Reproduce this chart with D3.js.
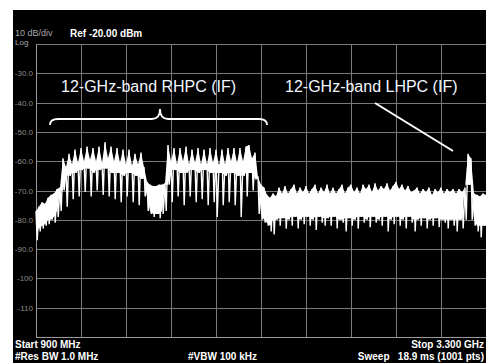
<!DOCTYPE html>
<html>
<head>
<meta charset="utf-8">
<script src="https://cdn.jsdelivr.net/npm/d3@7"></script>
<style>
  body { margin: 0; background: #fff; }
  svg { display: block; font-family: "Liberation Sans", Arial, sans-serif; }
</style>
</head>
<body>
<div id="chart"></div>
<script>
// sweep settings (MHz) and amplitude range (dBm)
const startFreq = 900;
const stopFreq = 3300;
const refLevel = -20;
const bottomLevel = -120;
const yTickValues = [-30, -40, -50, -60, -70, -80, -90, -100, -110];
const yTickLabels = ["-30.0", "-40.0", "-50.0", "-60.0", "-70.0", "-80.0", "-90.0", "-100", "-110"];

// trace, one sample every 16 MHz: peak (hi) and trough (lo) in dBm
const traceHi = [
  -77, -75.5, -74, -74.5, -72.5, -71.5, -71, -69.5, -69,
  -59, -62, -57.5, -61, -56, -60.5, -55.5, -60, -55, -59.5, -55.5, -60, -55, -60.5, -53.5,
  -59, -55, -60, -55.5, -60.5, -56, -61, -56, -61.5, -57.5, -61, -57, -62,
  -67, -68, -68.5, -68.5, -68, -68, -67.5,
  -54.5, -60, -55.5, -61, -55.5, -60, -55, -61, -56, -60.5, -55.5, -61, -56, -61, -55.5,
  -60.5, -56, -61.5, -56, -61, -55.5, -60, -55.5, -60.5, -55.5, -60, -55, -54.5, -59, -57,
  -65.5, -68,
  -69, -71.5, -72.5, -71, -72, -69, -71, -68.5, -71, -69.5, -68, -71, -69, -70.5, -68.5,
  -71, -69.5, -68, -71, -69, -70.5, -68, -71, -69, -71, -69.5, -68, -71, -69, -68,
  -70.5, -69, -71, -68, -69.5, -68, -70.5, -67.5, -70, -68.5, -69.5, -67.5, -70, -68.5, -67,
  -69.5, -68, -70, -68.5, -70.5, -70, -69, -71, -69.5, -70.5, -69, -71.5, -69.5, -70.5, -69,
  -71, -69.5, -70.5, -69.5, -71, -69.5, -70.5, -69,
  -57.5, -59,
  -71, -71.5, -72, -71, -71.5
];
const traceLo = [
  -87, -84, -83, -82, -81.5, -80, -81, -79, -77,
  -70, -75.5, -65, -73, -64, -72, -63, -70.5, -62.5, -72, -64, -70, -63, -71.5, -62.5,
  -72, -64, -73, -64, -74, -65, -72, -64, -74, -65, -75, -66, -72,
  -77, -78, -79, -78, -79.5, -78, -77,
  -68, -74, -63, -72, -64, -75, -64, -72, -63, -74, -64, -73, -63, -75, -64,
  -74, -79, -64, -75, -65, -74, -64, -75, -65, -79, -65, -72, -64, -70, -66,
  -78, -80,
  -81, -82, -84, -85, -80, -82, -79.5, -83, -80, -82, -79, -83, -80, -81.5, -79,
  -82, -80, -83.5, -79, -81, -82, -79.5, -82, -79, -83, -80, -81, -84, -79.5, -82,
  -80, -83, -79, -81, -80, -82.5, -79, -81, -80, -82, -79, -84, -80, -81.5, -79,
  -82, -80, -83, -79, -81, -84, -80, -82, -79.5, -83, -80, -82, -79.5, -82.5, -80,
  -81, -83, -80, -82, -84, -80, -83, -80,
  -68, -80,
  -82, -84, -86, -82, -84
];

const width = 486, height = 363;
const plot = {left: 36, right: 486, top: 44, bottom: 337};

const svg = d3.select("#chart").append("svg")
  .attr("width", width)
  .attr("height", height);

// analyzer screen
svg.append("rect")
  .attr("x", 13).attr("y", 10)
  .attr("width", width - 13).attr("height", height - 10)
  .attr("fill", "#000");

const x = d3.scaleLinear().domain([startFreq, stopFreq]).range([plot.left, plot.right]);
const y = d3.scaleLinear().domain([bottomLevel, refLevel]).range([plot.bottom, plot.top]);

// graticule
const xGrid = d3.range(0, 11).map(k => startFreq + k * (stopFreq - startFreq) / 10);
svg.append("g")
  .selectAll("line.v")
  .data(xGrid)
  .join("line")
  .attr("x1", d => x(d) + 0.5).attr("x2", d => x(d) + 0.5)
  .attr("y1", plot.top).attr("y2", plot.bottom)
  .attr("stroke", "#7a7a7a").attr("stroke-width", 1);

svg.append("g")
  .selectAll("line.h")
  .data([refLevel].concat(yTickValues, [bottomLevel]))
  .join("line")
  .attr("x1", plot.left).attr("x2", plot.right)
  .attr("y1", d => Math.round(y(d)) + 0.5).attr("y2", d => Math.round(y(d)) + 0.5)
  .attr("stroke", d => d === bottomLevel ? "#9a9a9a" : "#7a7a7a")
  .attr("stroke-width", 1);

// left axis labels
const yAxis = d3.axisLeft(y)
  .tickValues(yTickValues)
  .tickSize(0)
  .tickPadding(3)
  .tickFormat((d, i) => yTickLabels[i]);

const yAxisG = svg.append("g")
  .attr("transform", `translate(${plot.left},0)`)
  .call(yAxis);
yAxisG.select(".domain").attr("stroke", "#9a9a9a");
yAxisG.selectAll("text")
  .attr("fill", "#8a8a8a")
  .style("font-size", "8px")
  .style("font-family", "'Liberation Sans', Arial, sans-serif");

// trace
const step = (stopFreq - startFreq) / (traceHi.length - 1);
const samples = traceHi.map((hi, i) => {
  // solid body reaches down to the shallower of the neighbouring troughs
  const nb = [traceLo[i - 1], traceLo[i], traceLo[i + 1]].filter(v => v !== undefined);
  return {f: startFreq + i * step, hi: hi, lo: traceLo[i], body: d3.max(nb)};
});

svg.append("path")
  .datum(samples)
  .attr("fill", "#fff")
  .attr("d", d3.area()
    .x(d => x(d.f))
    .y0(d => y(Math.max(d.body, d.lo)))
    .y1(d => y(d.hi)));

const pts = [];
samples.forEach(d => {
  pts.push([x(d.f), y(d.hi)]);
  pts.push([x(d.f) + 1.2, y(d.lo)]);
});

svg.append("path")
  .datum(pts)
  .attr("fill", "none")
  .attr("stroke", "#fff")
  .attr("stroke-width", 1.4)
  .attr("stroke-linejoin", "miter")
  .attr("d", d3.line());

// header text
svg.append("text").attr("x", 15).attr("y", 36)
  .attr("fill", "#a8a8a8").style("font-size", "9px").text("10 dB/div");
svg.append("text").attr("x", 15).attr("y", 45)
  .attr("fill", "#a8a8a8").style("font-size", "8px").text("Log");
svg.append("text").attr("x", 70).attr("y", 37)
  .attr("fill", "#fff").style("font-size", "10px").style("font-weight", "bold")
  .text("Ref -20.00 dBm");

// footer text
const footer = [
  {t: "Start 900 MHz", x: 15, y: 348, a: "start"},
  {t: "#Res BW 1.0 MHz", x: 15, y: 360, a: "start"},
  {t: "#VBW 100 kHz", x: 188, y: 360, a: "start"},
  {t: "Stop 3.300 GHz", x: 484, y: 348, a: "end"},
  {t: "Sweep   18.9 ms (1001 pts)", x: 484, y: 360, a: "end"}
];
svg.append("g").selectAll("text")
  .data(footer)
  .join("text")
  .attr("x", d => d.x).attr("y", d => d.y)
  .attr("text-anchor", d => d.a)
  .attr("fill", "#fff")
  .style("font-size", "10px").style("font-weight", "bold")
  .style("white-space", "pre")
  .attr("xml:space", "preserve")
  .text(d => d.t);

// annotations
svg.append("text").attr("x", 61).attr("y", 92)
  .attr("fill", "#f2f6ff").style("font-size", "16px")
  .text("12-GHz-band RHPC (IF)");
svg.append("text").attr("x", 285).attr("y", 92)
  .attr("fill", "#f2f6ff").style("font-size", "16px")
  .text("12-GHz-band LHPC (IF)");

// curly brace over the RHPC band
const bx0 = 50, bx1 = 267, bm = 160, by = 119;
svg.append("path")
  .attr("d", `M${bx0},${by + 6} Q${bx0},${by} ${bx0 + 8},${by} L${bm - 8},${by} Q${bm},${by} ${bm},${by - 10}` +
             ` Q${bm},${by} ${bm + 8},${by} L${bx1 - 8},${by} Q${bx1},${by} ${bx1},${by + 6}`)
  .attr("fill", "none").attr("stroke", "#fff").attr("stroke-width", 1.8);

// pointer to the LHPC carrier
svg.append("line")
  .attr("x1", 375).attr("y1", 103).attr("x2", 453).attr("y2", 151)
  .attr("stroke", "#fff").attr("stroke-width", 2);
</script>
</body>
</html>
